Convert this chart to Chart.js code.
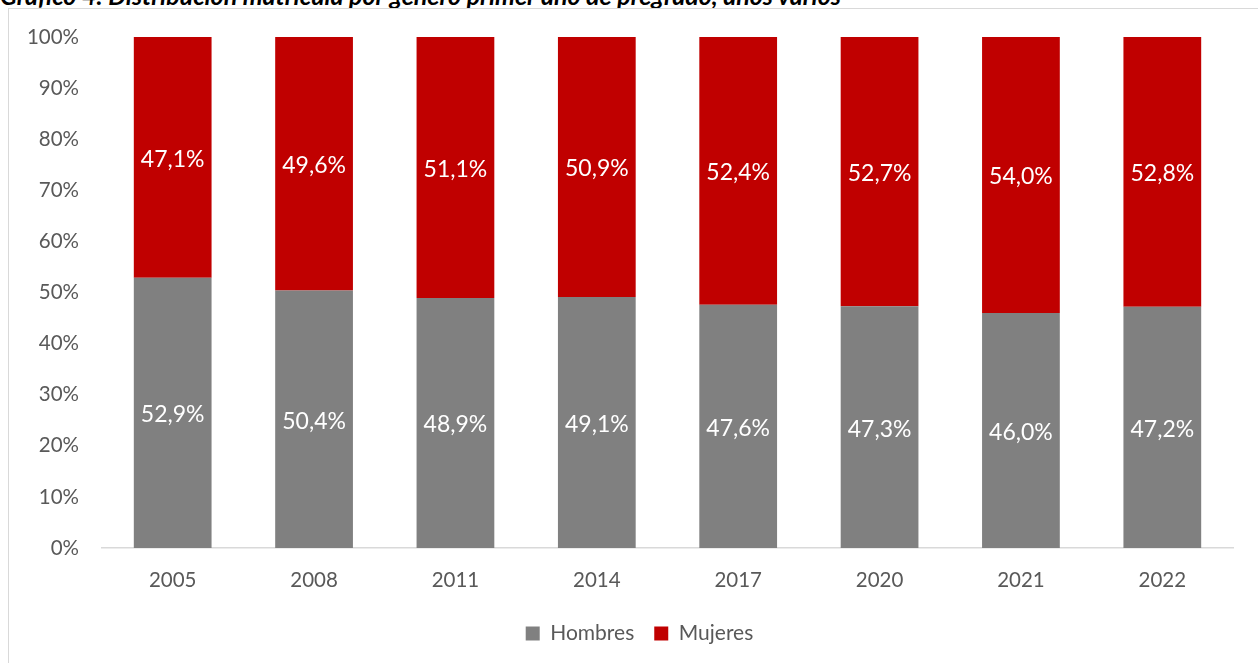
<!DOCTYPE html>
<html>
<head>
<meta charset="utf-8">
<script src="https://cdn.jsdelivr.net/npm/chart.js@4.4.1/dist/chart.umd.min.js"></script>
<style>
    html, body { margin: 0; padding: 0; background: #fff; overflow: hidden; }
    #titulo {
        position: absolute; left: 0; top: -20px; line-height: 30px;
        font-family: Lato, sans-serif; font-style: italic; font-weight: bold; font-size: 25px; color: #000;
        white-space: nowrap;
    }
    #marco {
        position: absolute; left: 8px; top: 8px; width: 1300px; height: 700px;
        border: 1px solid #d9d9d9; box-sizing: border-box;
    }
    #wrap { position: absolute; left: 0; top: 0; width: 1258px; height: 663px; }
</style>
</head>
<body>
<div id="titulo">Gráfico 4: Distribución matrícula por género primer año de pregrado, años varios</div>
<div id="marco"></div>
<div id="wrap"><canvas id="grafico"></canvas></div>
<script>
const anios = ['2005', '2008', '2011', '2014', '2017', '2020', '2021', '2022'];
const hombres = [52.9, 50.4, 48.9, 49.1, 47.6, 47.3, 46.0, 47.2];
const mujeres = [47.1, 49.6, 51.1, 50.9, 52.4, 52.7, 54.0, 52.8];
const ticksY = [0, 10, 20, 30, 40, 50, 60, 70, 80, 90, 100];

const fuente = 'Lato, sans-serif';
const gris = '#595959';

// etiquetas blancas en el centro de cada segmento
const etiquetas = {
    id: 'etiquetas',
    afterDatasetsDraw(chart) {
        const ctx = chart.ctx;
        ctx.save();
        ctx.fillStyle = '#ffffff';
        ctx.font = '23px ' + fuente;
        ctx.textAlign = 'center';
        ctx.textBaseline = 'middle';
        chart.data.datasets.forEach((ds, i) => {
            chart.getDatasetMeta(i).data.forEach((bar, j) => {
                const p = bar.getProps(['x', 'y', 'base'], true);
                const texto = ds.data[j].toFixed(1).replace('.', ',') + '%';
                ctx.fillText(texto, p.x, (p.y + p.base) / 2 + 2);
            });
        });
        ctx.restore();
    }
};

// la leyenda va un poco más a la derecha, como en el original
const moverLeyenda = {
    id: 'moverLeyenda',
    afterLayout(chart) {
        chart.legend.left += 23;
        chart.legend.right += 23;
    }
};

const ctx = document.getElementById('grafico').getContext('2d');
const chart = new Chart(ctx, {
    type: 'bar',
    data: {
        labels: anios,
        datasets: [
            { label: 'Hombres', data: hombres, backgroundColor: '#808080', categoryPercentage: 1, barPercentage: 0.55 },
            { label: 'Mujeres', data: mujeres, backgroundColor: '#C00000', categoryPercentage: 1, barPercentage: 0.55 }
        ]
    },
    options: {
        responsive: true,
        maintainAspectRatio: false,
        animation: false,
        layout: { padding: { top: 37, right: 25, bottom: 9, left: 0 } },
        plugins: {
            legend: {
                position: 'bottom',
                labels: {
                    font: { family: fuente, size: 21 },
                    color: gris,
                    boxWidth: 14,
                    boxHeight: 14,
                    padding: 20
                }
            },
            tooltip: { enabled: false }
        },
        scales: {
            x: {
                stacked: true,
                grid: { display: false, drawTicks: false, tickLength: 0 },
                border: { display: true, color: '#d9d9d9', width: 1.5 },
                ticks: { color: gris, font: { family: fuente, size: 20.5 }, padding: 20 },
                afterFit: s => { s.height = 55; }
            },
            y: {
                stacked: true,
                min: 0,
                max: 100,
                afterBuildTicks: s => { s.ticks = ticksY.map(v => ({ value: v })); },
                grid: { display: false, drawTicks: false, tickLength: 0 },
                border: { display: false },
                ticks: {
                    color: gris,
                    font: { family: fuente, size: 20.5 },
                    padding: 23,
                    callback: v => v + '%'
                },
                afterFit: s => { s.width = 102; }
            }
        }
    },
    plugins: [etiquetas, moverLeyenda]
});
</script>
</body>
</html>
